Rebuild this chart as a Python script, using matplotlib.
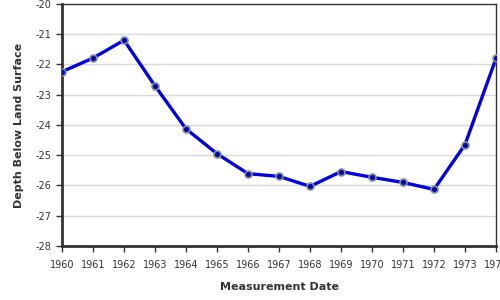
import matplotlib.pyplot as plt

plt.rcParams['axes.unicode_minus'] = False

years = [1960, 1961, 1962, 1963, 1964, 1965, 1966, 1967, 1968, 1969, 1970, 1971, 1972, 1973, 1974]
depth = [-22.24, -21.79, -21.20, -22.71, -24.13, -24.95, -25.61, -25.70, -26.03, -25.54,
         -25.73, -25.90, -26.13, -24.65, -21.80]
y_ticks = [-28, -27, -26, -25, -24, -23, -22, -21, -20]

fig = plt.figure(figsize=(5, 3), dpi=100)
ax = fig.add_axes([0.124, 0.18, 0.868, 0.807])

ax.plot(years, depth, color='#0000e0', lw=2.4, zorder=3,
        marker='o', markersize=5, markerfacecolor='#0a0aa0',
        markeredgecolor='#8090a0', markeredgewidth=1.2)

ax.set_xlim(1960, 1974)
ax.set_ylim(-28, -20)
ax.set_xticks(years)
ax.set_yticks(y_ticks)
ax.grid(axis='y', color='#d8d8d8', lw=1)
ax.set_axisbelow(True)

for side in ['left', 'bottom']:
    ax.spines[side].set_linewidth(2)
    ax.spines[side].set_color('#333333')
for side in ['top', 'right']:
    ax.spines[side].set_linewidth(1)
    ax.spines[side].set_color('#333333')

ax.tick_params(labelsize=7, colors='#333333', length=4, width=1)
ax.tick_params(axis='x', pad=6)
ax.set_xlabel('Measurement Date', fontsize=8, fontweight='bold', color='#333333', labelpad=9)
ax.set_ylabel('Depth Below Land Surface', fontsize=8, fontweight='bold', color='#333333', labelpad=8)

fig.savefig('out.png', dpi=100)
